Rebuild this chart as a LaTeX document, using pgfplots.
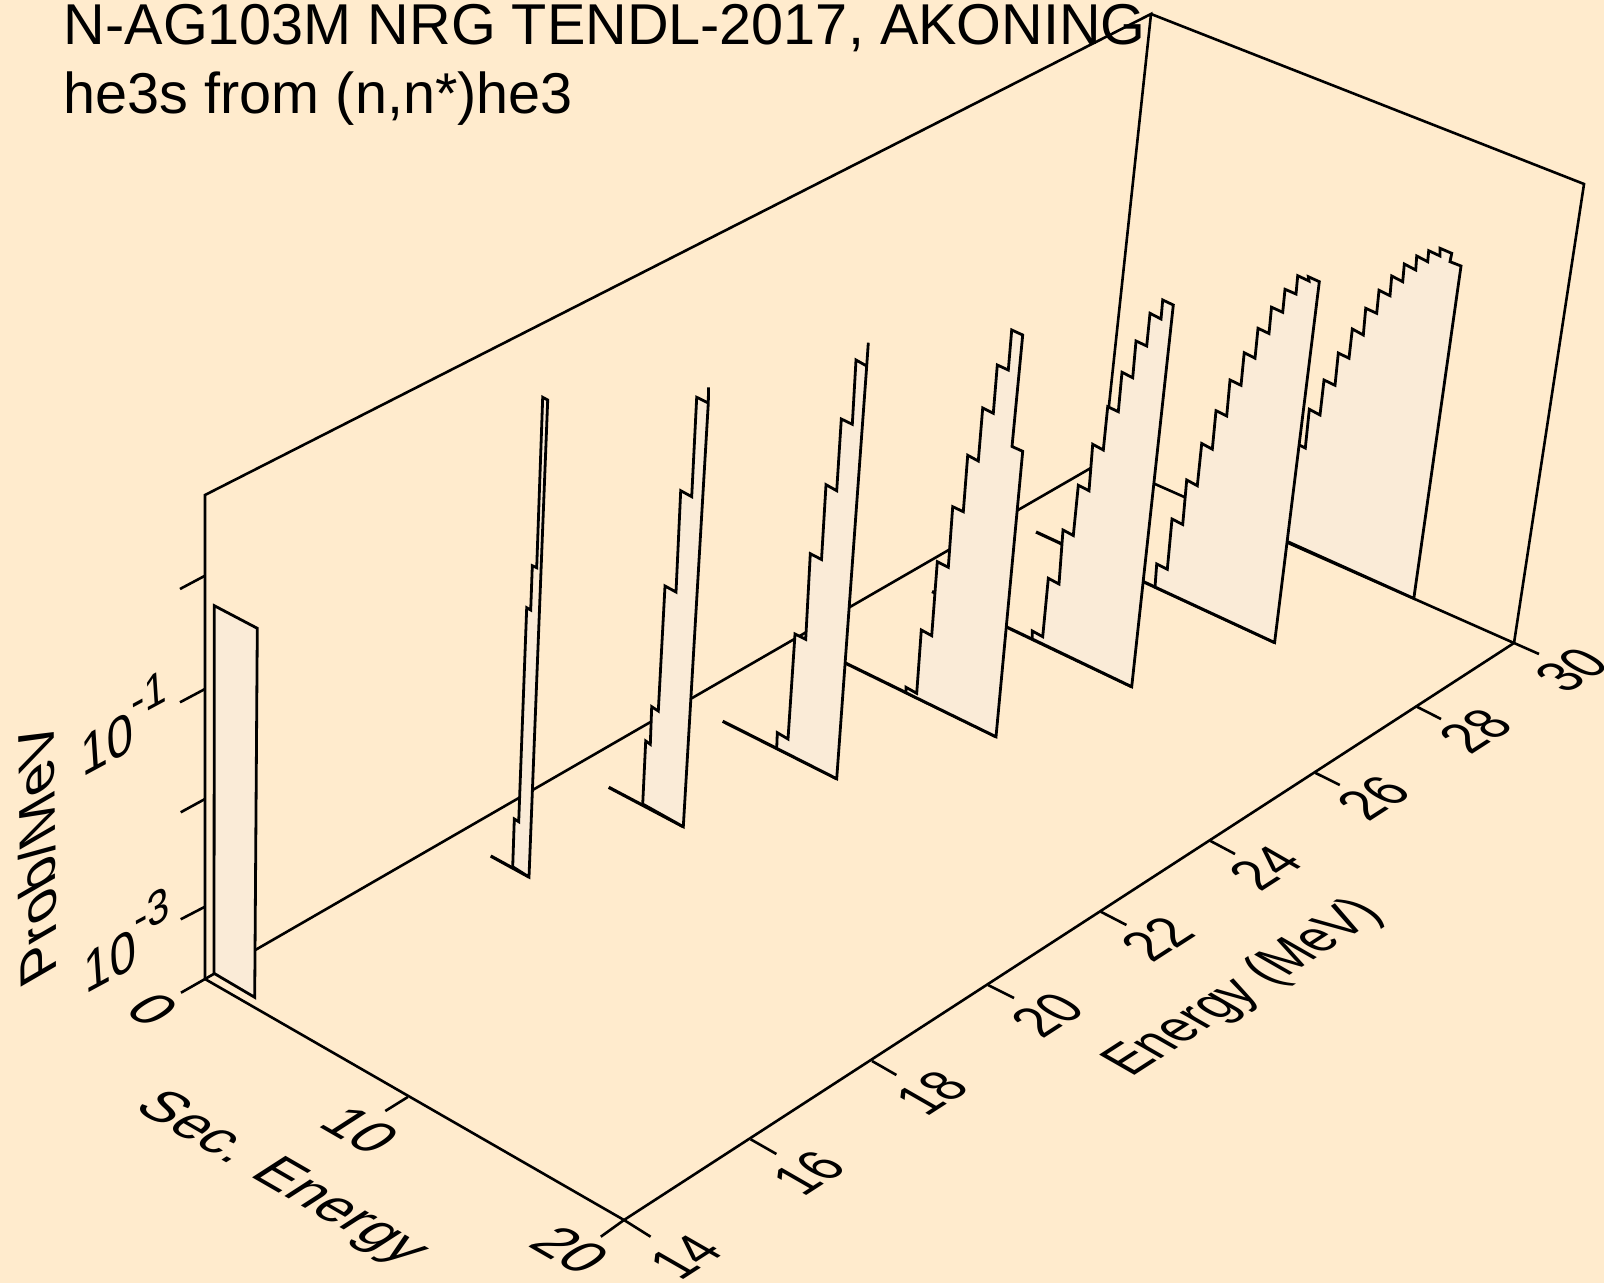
\documentclass[border=0pt]{standalone}
\usepackage{pgfplots}
\pgfplotsset{compat=1.18}
\usepackage{fontspec}
\setmainfont{Liberation Sans}
\definecolor{bgc}{HTML}{FFEBCD}
\definecolor{fillc}{HTML}{FAEBD7}
\pgfplotsset{
  surfa/.style={fill=fillc,draw=black,line width=1.4pt,line join=miter,miter limit=6,mark=none},
  frame/.style={draw=black,line width=1.3pt,mark=none},
  base/.style={draw=black,line width=1.6pt,mark=none}
}
% text lying in a plane of the box: baseline vector (a,b), up vector (c,d), origin (x,y)
\newcommand{\planetext}[7]{\node[cm={#3,#4,#5,#6,(axis cs:#1,#2)},transform shape,anchor=base west,inner sep=0pt,font=\fontsize{27}{32}\selectfont] at (0,0) {#7};}
\newcommand{\Elab}[3]{\planetext{#1}{#2}{.76}{.49}{-.95}{.545}{#3}}
\newcommand{\Slab}[3]{\planetext{#1}{#2}{.91}{-.525}{.90}{.58}{#3}}
\newcommand{\Zlab}[3]{\planetext{#1}{#2}{.87}{.47}{-.07}{1.05}{#3}}
\begin{document}
\begin{tikzpicture}
\path[use as bounding box] (0,0) rectangle (802pt,641.5pt);
\begin{axis}[
  at={(0,0)},anchor=south west,
  width=802pt,height=641.5pt,scale only axis,
  xmin=0,xmax=1604,ymin=0,ymax=1283,y dir=reverse,
  hide axis,
]
\addplot[fill=bgc,draw=none,mark=none] coordinates {(0,0) (1604,0) (1604,1283) (0,1283)} --cycle;

% walls and floor
\addplot[frame] coordinates {(205,979) (205,495) (1151,14) (1103,461)};
\addplot[frame] coordinates {(1151,14) (1584,184) (1514,643)};
\addplot[frame] coordinates {(205,979) (1103,461) (1514,643)};
\addplot[frame] coordinates {(205,979) (624,1220) (1514,643)};

% ticks
\addplot[frame] coordinates {(205,575.7) (180,589)};
\addplot[frame] coordinates {(205,689) (180,702.3)};
\addplot[frame] coordinates {(205,799) (180.7,812.3)};
\addplot[frame] coordinates {(205,906.7) (180.7,919.3)};
\addplot[frame] coordinates {(205,979) (181,992.7)};
\addplot[frame] coordinates {(407.8,1097) (385.3,1111)};
\addplot[frame] coordinates {(624,1220) (600.8,1236.7)};
\addplot[frame] coordinates {(624,1220) (650.6,1236.7)};
\addplot[frame] coordinates {(750.7,1139.3) (776.4,1154)};
\addplot[frame] coordinates {(872,1061) (896.4,1075)};
\addplot[frame] coordinates {(988,985) (1014,998)};
\addplot[frame] coordinates {(1100.7,911.7) (1126.4,925)};
\addplot[frame] coordinates {(1210,840.7) (1235,854)};
\addplot[frame] coordinates {(1315,772.7) (1339.8,785)};
\addplot[frame] coordinates {(1416.8,706.7) (1441,719)};
\addplot[frame] coordinates {(1514,643) (1539,654)};

% surface H
\addplot[surfa] coordinates {(1284,540) (1295,443) (1305.3,448) (1309.3,409.3) (1320,415) (1324,380) (1335,385.3) (1338.3,353) (1349,358.3) (1352.3,329) (1363.3,335) (1365.7,308.3) (1376.7,313.3) (1379,290.3) (1390,295.7) (1391.7,276) (1402.7,281.7) (1404.3,264) (1415.7,270) (1416.7,256) (1427.7,261.7) (1428.7,250.7) (1440,256) (1440,248.3) (1451.7,253.3) (1450,261.7) (1461,266) (1413.8,598.4)} --cycle;
% surface G
\addplot[base] coordinates {(1036,532) (1274.6,642.5)};
\addplot[surfa] coordinates {(1155,587) (1156.7,564) (1167.3,569.3) (1172,519) (1182.7,524.5) (1186.7,480) (1197.3,485.7) (1201.7,443.5) (1212.3,449.2) (1216,410.7) (1226.7,416) (1230,380) (1241,385.3) (1244.2,352.7) (1255,358.2) (1258,328.3) (1269,333.5) (1271.5,307.2) (1282.7,312.3) (1285,289.3) (1296,294) (1297.7,275.7) (1309,281) (1308.3,276.7) (1319.3,281.7) (1274.6,642.5)} --cycle;
% surface F
\addplot[base] coordinates {(932,591.5) (1131.7,686.7)};
\addplot[surfa] coordinates {(1032.3,639) (1032.3,631) (1042.7,636.7) (1048.3,578.3) (1059,584) (1063,530) (1073.3,535.5) (1078.3,485.3) (1089,490.7) (1092.7,444.3) (1103.3,450) (1107.7,406.7) (1118.3,411.7) (1122,372.3) (1132.7,377.7) (1136,341) (1146.7,346) (1150,313.3) (1161,319) (1162.7,300) (1173.3,305) (1131.7,686.7)} --cycle;
% surface E
\addplot[base] coordinates {(835,658) (996,736.7)};
\addplot[surfa] coordinates {(906,692.7) (906,687.3) (916.7,693.3) (921.3,630) (931.7,635.7) (937.3,561.7) (948.3,567.3) (952.7,506.7) (963.3,511.7) (967.7,455.3) (978.3,461) (982.7,408) (993.3,413.3) (997.3,365) (1008.3,370) (1011.7,330) (1022.7,335) (1012,446.5) (1022.7,451.3) (996,736.7)} --cycle;
% surface D
\addplot[base] coordinates {(722.7,721.3) (836.7,778.7)};
\addplot[surfa] coordinates {(776.7,748.3) (777.3,732.7) (788,739) (795,634) (805.7,639.3) (810.3,553.7) (821.5,559.5) (826,484.7) (836.7,490.7) (841.3,419) (852.3,424.3) (856,360) (866.7,366) (868.3,342.7) (866.7,366) (836.7,778.7)} --cycle;
% surface C
\addplot[base] coordinates {(608.7,787.3) (683.3,826.7)};
\addplot[surfa] coordinates {(642.7,804) (645.7,741) (650.3,744.3) (651.7,706.7) (658.3,711) (665,586) (676,592) (680.7,490.7) (691.7,496.7) (696.7,397.3) (708.3,403) (708.5,387.3) (708.3,403) (683.3,826.7)} --cycle;
% surface B
\addplot[base] coordinates {(490.7,856) (529,877)};
\addplot[surfa] coordinates {(512.7,866.7) (514.3,819) (518.7,821.7) (526.7,607.7) (530.7,610) (532.3,565.7) (536.7,567.7) (542.7,397.3) (547.7,400) (529,877)} --cycle;
% surface A
\addplot[surfa] coordinates {(214,973.3) (214.3,605.7) (257.3,628.3) (254.7,997.3)} --cycle;

% energy axis labels
\Elab{680}{1282}{14}
\Elab{803}{1198}{16}
\Elab{926}{1118}{18}
\Elab{1042}{1040}{20}
\Elab{1152}{964}{22}
\Elab{1260}{893}{24}
\Elab{1368}{823}{26}
\Elab{1470}{756}{28}
\Elab{1566}{695}{30}
\planetext{1131}{1078}{.76}{.49}{-.95}{.545}{Energy (MeV)}
% secondary energy axis labels
\Slab{122}{1012}{0}
\Slab{316}{1125}{10}
\Slab{526}{1245}{20}
\planetext{132}{1108}{.91}{-.525}{.90}{.58}{Sec. Energy}
% probability axis labels
\Zlab{85}{995}{10\raisebox{14.5pt}{\fontsize{22.5}{24}\selectfont -3}}
\Zlab{82}{778}{10\raisebox{14.5pt}{\fontsize{22.5}{24}\selectfont -1}}
\planetext{57}{972}{-.014}{1.065}{-.95}{-.55}{Prob/MeV}

% title
\node[anchor=base west,inner sep=0pt,font=\fontsize{28.8}{32}\selectfont] at (axis cs:63.5,45) {N-AG103M NRG TENDL-2017, AKONING};
\node[anchor=base west,inner sep=0pt,font=\fontsize{28.8}{32}\selectfont] at (axis cs:63.5,113.5) {he3s from (n,n*)he3};
\end{axis}
\end{tikzpicture}
\end{document}
